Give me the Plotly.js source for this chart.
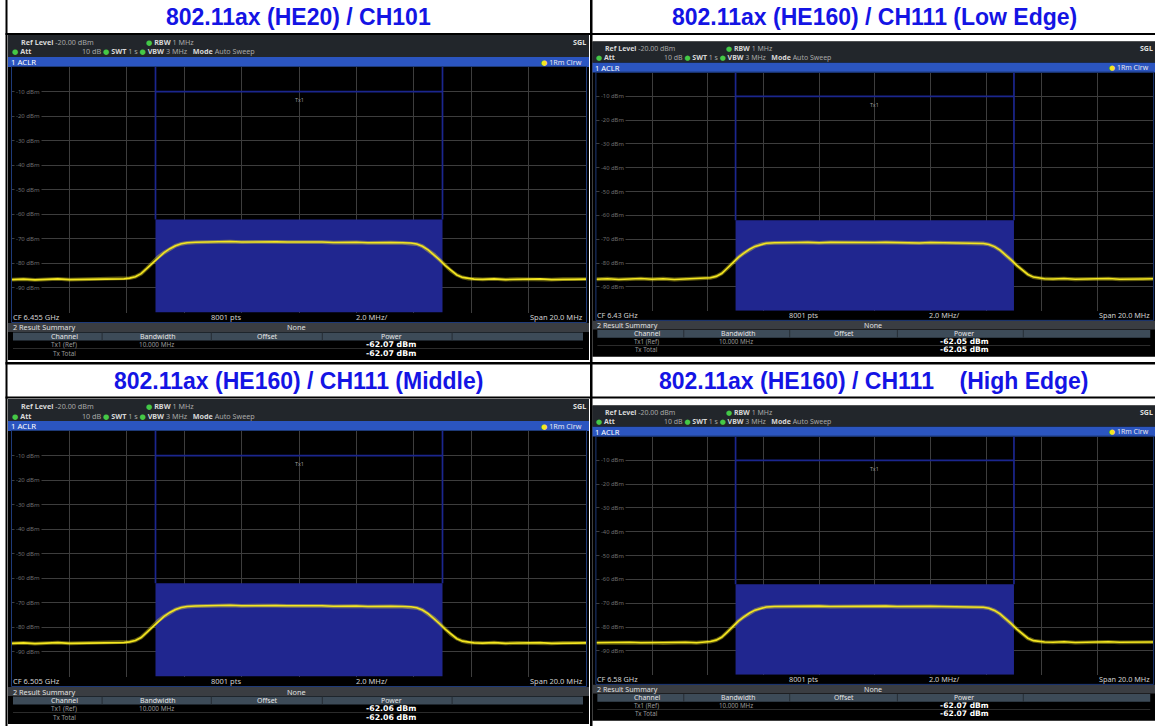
<!DOCTYPE html>
<html><head><meta charset="utf-8">
<script src="https://cdn.plot.ly/plotly-3.0.1.min.js"></script>
<style>html,body{margin:0;padding:0;background:#fff;overflow:hidden}#chart{width:1155px;height:726px}</style>
</head><body><div id="chart"></div>
<script>
// ---------------- data ----------------
const titles = ['802.11ax (HE20) / CH101', '802.11ax (HE160) / CH111 (Low Edge)',
                '802.11ax (HE160) / CH111 (Middle)', '802.11ax (HE160) / CH111\u00a0\u00a0\u00a0\u00a0(High Edge)'];
const centerFreq = ['6.455 GHz', '6.43 GHz', '6.505 GHz', '6.58 GHz'];
const channelPower = [-62.07, -62.05, -62.06, -62.07];
const channelBW = 10;            // MHz (10.000 MHz)
const spanMHz = 20;
const yTickVals = [-10, -20, -30, -40, -50, -60, -70, -80, -90];
const yTickText = ['-10 dBm', '-20 dBm', '-30 dBm', '-40 dBm', '-50 dBm', '-60 dBm', '-70 dBm', '-80 dBm', '-90 dBm'];
const xGridMHz = [-8, -6, -4, -2, 0, 2, 4, 6, 8];
const freqMHz = [-10,-9.6,-9.2,-8.8,-8.4,-8,-7.6,-7.2,-6.8,-6.4,
  -6.1,-5.9,-5.7,-5.5,-5.3,-5.1,-4.9,-4.7,-4.5,-4.3,-4.1,-3.9,
  -3.6,-3.2,-2.8,-2.4,-2,-1.6,-1.2,-0.8,-0.4,0,0.4,0.8,1.2,1.6,2,2.4,2.8,3.2,3.6,
  3.9,4.1,4.3,4.5,4.7,4.9,5.1,5.3,5.5,5.7,5.9,6.1,
  6.4,6.8,7.2,7.6,8,8.4,8.8,9.2,9.6,10];
const levelCH101 = [-86.6,-86.4,-86.7,-86.5,-86.3,-86.6,-86.5,-86.7,-86.4,-86.5,
  -86.3,-86.0,-85.4,-84.2,-82.0,-79.6,-77.4,-75.6,-74.0,-72.8,-72.0,-71.6,
  -71.4,-71.2,-71.3,-71.1,-71.3,-71.2,-71.4,-71.2,-71.3,-71.2,-71.4,-71.3,-71.5,-71.3,-71.4,-71.6,-71.4,-71.5,-71.6,
  -71.7,-72.1,-73.0,-74.5,-76.4,-78.6,-80.9,-83.0,-84.7,-85.7,-86.2,-86.4,
  -86.5,-86.3,-86.6,-86.4,-86.5,-86.3,-86.6,-86.4,-86.5,-86.4];
const levelLowEdge = [-86.8,-86.6,-86.9,-86.7,-86.5,-86.8,-86.6,-86.9,-86.7,-86.6,
  -86.5,-86.2,-85.6,-84.4,-82.2,-79.8,-77.6,-75.8,-74.2,-73.0,-72.2,-71.7,
  -71.5,-71.3,-71.4,-71.3,-71.5,-71.3,-71.4,-71.3,-71.5,-71.4,-71.3,-71.5,-71.4,-71.6,-71.4,-71.5,-71.6,-71.5,-71.7,
  -71.8,-72.2,-73.1,-74.6,-76.5,-78.7,-81.0,-83.1,-84.8,-85.9,-86.4,-86.6,
  -86.7,-86.5,-86.8,-86.6,-86.7,-86.5,-86.8,-86.6,-86.7,-86.6];
const levelMiddle = [-86.5,-86.3,-86.6,-86.4,-86.2,-86.5,-86.4,-86.6,-86.3,-86.4,
  -86.2,-85.9,-85.3,-84.1,-81.9,-79.5,-77.3,-75.5,-73.9,-72.7,-71.9,-71.5,
  -71.3,-71.1,-71.2,-71.0,-71.2,-71.1,-71.3,-71.1,-71.2,-71.1,-71.3,-71.2,-71.4,-71.2,-71.3,-71.5,-71.3,-71.4,-71.5,
  -71.6,-72.0,-72.9,-74.4,-76.3,-78.5,-80.8,-82.9,-84.6,-85.6,-86.1,-86.3,
  -86.4,-86.2,-86.5,-86.3,-86.4,-86.2,-86.5,-86.3,-86.4,-86.3];
const levelHighEdge = [-86.6,-86.5,-86.7,-86.4,-86.6,-86.5,-86.7,-86.5,-86.4,-86.6,
  -86.4,-86.1,-85.5,-84.3,-82.1,-79.7,-77.5,-75.7,-74.1,-72.9,-72.1,-71.6,
  -71.4,-71.3,-71.2,-71.3,-71.2,-71.4,-71.3,-71.2,-71.4,-71.3,-71.2,-71.4,-71.3,-71.5,-71.3,-71.4,-71.5,-71.4,-71.6,
  -71.7,-72.1,-73.0,-74.5,-76.4,-78.6,-80.9,-83.0,-84.7,-85.7,-86.1,-86.3,
  -86.4,-86.2,-86.5,-86.3,-86.4,-86.2,-86.4,-86.3,-86.5,-86.3];
const levels = [levelCH101, levelLowEdge, levelMiddle, levelHighEdge];

// ---------------- layout helpers ----------------
const W = 1155, H = 726;
const X = p => p / W, Y = p => 1 - p / H;
const FONT = 'Noto Sans, DejaVu Sans, sans-serif';
const GRID = '#3d3d3d';
const shapes = [], annotations = [], traces = [];
const layout = {width: W, height: H, margin: {l: 0, r: 0, t: 0, b: 0}, showlegend: false,
  paper_bgcolor: '#ffffff', plot_bgcolor: '#000000', shapes, annotations};

function rect(x0, y0, x1, y1, fill, layer, lineColor) {
  shapes.push({type: 'rect', xref: 'paper', yref: 'paper', x0: X(x0), x1: X(x1), y0: Y(y1), y1: Y(y0),
    fillcolor: fill, line: {width: lineColor ? 1 : 0, color: lineColor || fill}, layer: layer || 'below'});
}
function txt(x, y, text, anchor, size, color, extra) {
  annotations.push(Object.assign({xref: 'paper', yref: 'paper', x: X(x), y: Y(y), text, showarrow: false,
    xanchor: anchor, yanchor: 'middle', borderpad: 0, font: {size, color, family: FONT}}, extra || {}));
}

// table borders (black)
rect(5.5, 0, 7.5, 726, '#000');
rect(590, 0, 592.5, 726, '#000');
rect(5.5, 33, 1155, 35, '#000');
rect(5.5, 362, 1155, 364.5, '#000');
rect(5.5, 396.5, 1155, 398.5, '#000');

// titles
const titlePos = [[298, 17], [874, 17], [298, 381], [874, 381]];
titles.forEach((t, i) => txt(titlePos[i][0], titlePos[i][1], '<b>' + t + '</b>', 'center', 23, '#1414e4',
  {font: {size: 23, color: '#1414e4', family: 'Liberation Sans, Arial, sans-serif'}}));

const panels = [{ox: 8, oy: 35, s: 1}, {ox: 592.5, oy: 41.5, s: 0.97}, {ox: 8, oy: 399, s: 1}, {ox: 592.5, oy: 405.5, s: 0.97}];
const G = '<span style="color:#46c846">●</span>';
const PFONT = 'DejaVu Sans, sans-serif';

panels.forEach((p, i) => {
  const s = p.s, ax = r => p.ox + r * s, ay = r => p.oy + r * s;
  const n = i + 1, xa = 'x' + (n > 1 ? n : ''), ya = 'y' + (n > 1 ? n : '');
  const fs = 7.2 * s;
  // backgrounds
  rect(ax(0), ay(0), ax(581), ay(325), '#000');
  rect(ax(0), ay(0), ax(581), ay(22), '#22262b');
  rect(ax(0), ay(22), ax(581), ay(32), '#2b55c0');
  rect(ax(0), ay(288), ax(581), ay(297), '#3a3d42');
  rect(ax(5), ay(297.5), ax(575), ay(305.5), '#3d4b58');
  [93.6, 202.8, 313.8, 443.6].forEach(d => rect(ax(d), ay(297.5), ax(d + 1), ay(305.5), '#262d34'));
  rect(ax(5), ay(313.2), ax(575), ay(314), '#3a3a3a');
  rect(ax(3.5), ay(31.5), ax(578.5), ay(287.5), 'rgba(0,0,0,0)', 'above', '#1e3a78');

  // header texts
  txt(ax(12), ay(7), '<b>Ref Level</b> <span style="color:#a8a8a8">-20.00 dBm</span>', 'left', fs, '#d8d8d8');
  txt(ax(137), ay(7), G + ' <b>RBW</b> <span style="color:#a8a8a8">1 MHz</span>', 'left', fs, '#d8d8d8');
  txt(ax(579), ay(7), '<b>SGL</b>', 'right', fs, '#e0e0e0');
  txt(ax(3), ay(16.5), G + ' <b>Att</b>', 'left', fs, '#d8d8d8');
  txt(ax(73), ay(16.5), '<span style="color:#a8a8a8">10 dB</span> ' + G + ' <b>SWT</b> <span style="color:#a8a8a8">1 s</span> ' + G +
      ' <b>VBW</b> <span style="color:#a8a8a8">3 MHz</span>\u00a0\u00a0\u00a0<b>Mode</b> <span style="color:#a8a8a8">Auto Sweep</span>', 'left', fs, '#d8d8d8');
  txt(ax(2), ay(27), '1 ACLR', 'left', 7.8 * s, '#ffffff');
  txt(ax(575), ay(27), '<span style="color:#f4e620">●</span> 1Rm Clrw', 'right', fs, '#e6e6f0');

  // bottom line + result summary
  txt(ax(4), ay(282.3), 'CF ' + centerFreq[i], 'left', 7.5 * s, '#d0d0d0');
  txt(ax(218), ay(282.3), '8001 pts', 'center', 7.5 * s, '#d0d0d0');
  txt(ax(363), ay(282.3), (spanMHz / 10).toFixed(1) + ' MHz/', 'center', 7.5 * s, '#d0d0d0');
  txt(ax(576), ay(282.3), 'Span ' + spanMHz.toFixed(1) + ' MHz', 'right', 7.5 * s, '#d0d0d0');
  txt(ax(4), ay(292.5), '2 Result Summary', 'left', 7.3 * s, '#e0e0e0');
  txt(ax(289), ay(292.5), 'None', 'center', 7.3 * s, '#e0e0e0');
  [['Channel', 56], ['Bandwidth', 150], ['Offset', 259], ['Power', 383]].forEach(h =>
    txt(ax(h[1]), ay(301.5), h[0], 'center', 7 * s, '#e6e6e6'));
  txt(ax(56), ay(309.6), 'Tx1 (Ref)', 'center', 6.4 * s, '#9a9a9a');
  txt(ax(148), ay(309.6), channelBW.toFixed(3) + ' MHz', 'center', 6.4 * s, '#9a9a9a');
  txt(ax(56), ay(318), 'Tx Total', 'center', 6.4 * s, '#9a9a9a');
  const pw = '<b>' + channelPower[i].toFixed(2) + ' dBm</b>';
  txt(ax(383), ay(309.5), pw, 'center', 7.8 * s, '#ffffff', {font: {size: 7.8 * s, color: '#ffffff', family: PFONT}});
  txt(ax(383), ay(318), pw, 'center', 7.8 * s, '#ffffff', {font: {size: 7.8 * s, color: '#ffffff', family: PFONT}});

  // axes
  layout[n === 1 ? 'xaxis' : 'xaxis' + n] = {domain: [X(ax(4)), X(ax(578))], range: [-spanMHz / 2, spanMHz / 2], anchor: ya,
    tickvals: xGridMHz, showticklabels: false, ticks: '', gridcolor: GRID, gridwidth: 1, zeroline: false, showline: false, fixedrange: true};
  layout[n === 1 ? 'yaxis' : 'yaxis' + n] = {domain: [Y(ay(277.5)), Y(ay(32))], range: [-100, 0], anchor: xa,
    tickvals: yTickVals, showticklabels: false, ticks: '', gridcolor: GRID, gridwidth: 1, zeroline: false, showline: false, fixedrange: true};

  // y tick labels inside the plot
  yTickVals.forEach((v, k) => annotations.push({xref: xa + ' domain', yref: ya, x: 0.004, y: v, text: yTickText[k],
    showarrow: false, xanchor: 'left', yanchor: 'middle', bgcolor: '#000', borderpad: 1,
    font: {size: 6 * s, color: '#6e6e6e', family: FONT}}));

  // channel box + markers
  shapes.push({type: 'rect', xref: xa, yref: ya, x0: -channelBW / 2, x1: channelBW / 2, y0: -100, y1: channelPower[i],
    fillcolor: '#20268f', line: {width: 0}, layer: 'between'});
  [-channelBW / 2, channelBW / 2].forEach(xv => shapes.push({type: 'line', xref: xa, yref: ya, x0: xv, x1: xv, y0: channelPower[i], y1: 0,
    line: {width: 1.7, color: '#1b268e'}, layer: 'between'}));
  shapes.push({type: 'line', xref: xa, yref: ya, x0: -channelBW / 2, x1: channelBW / 2, y0: -10, y1: -10,
    line: {width: 1.7, color: '#1b268e'}, layer: 'between'});
  annotations.push({xref: xa, yref: ya, x: 0, y: -11, text: 'Tx1', showarrow: false, xanchor: 'center', yanchor: 'top',
    font: {size: 5.5 * s, color: '#9a9a9a', family: FONT}});

  // trace
  traces.push({x: freqMHz, y: levels[i], xaxis: xa, yaxis: ya, type: 'scatter', mode: 'lines', hoverinfo: 'skip',
    line: {color: 'rgba(244,230,32,0.4)', width: 3.8}});
  traces.push({x: freqMHz, y: levels[i], xaxis: xa, yaxis: ya, type: 'scatter', mode: 'lines', hoverinfo: 'skip',
    line: {color: '#f4e620', width: 1.6}});
});

Plotly.newPlot('chart', traces, layout, {staticPlot: true, displayModeBar: false});
</script></body></html>
